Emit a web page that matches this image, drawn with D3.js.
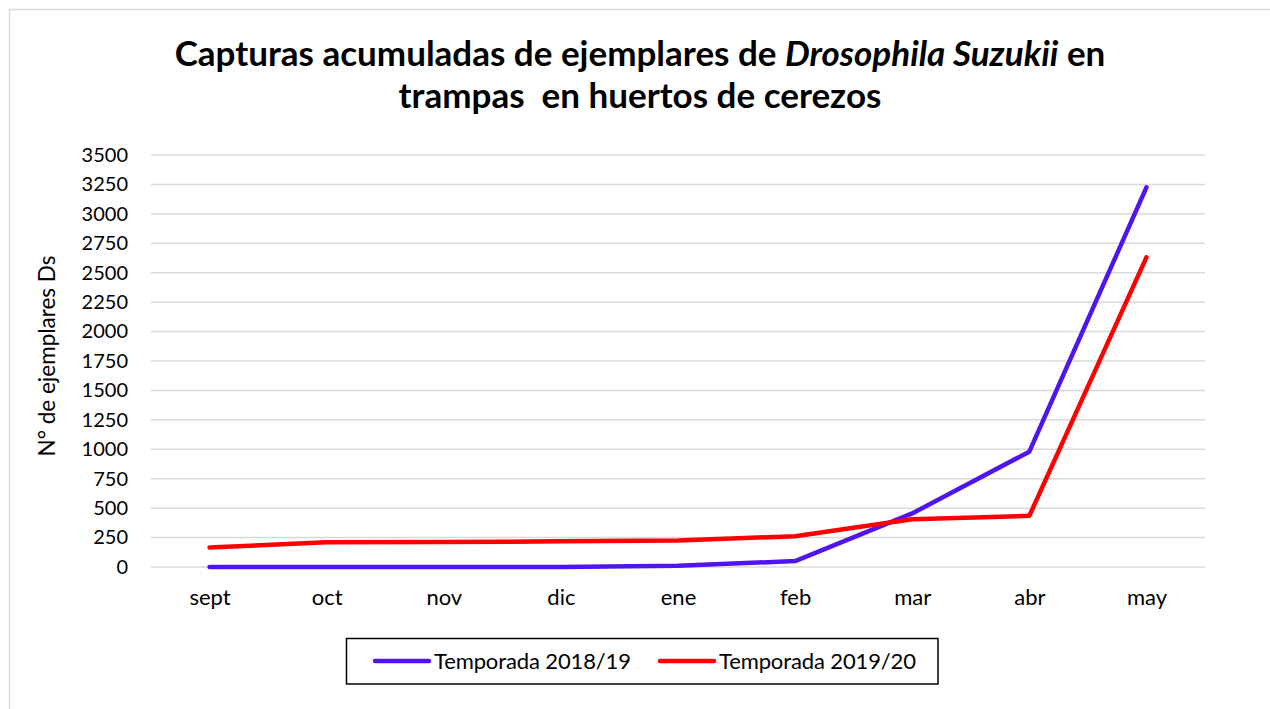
<!DOCTYPE html>
<html>
<head>
<meta charset="utf-8">
<script src="https://cdn.jsdelivr.net/npm/d3@7"></script>
<style>
  body { margin: 0; background: #fff; }
  svg { display: block; font-family: Lato, "Open Sans", sans-serif; }
</style>
</head>
<body>
<svg id="chart" width="1270" height="709"></svg>
<script>
const months = ["sept", "oct", "nov", "dic", "ene", "feb", "mar", "abr", "may"];
const season1819 = [0, 0, 0, 0, 10, 50, 455, 980, 3225];
const season1920 = [165, 210, 212, 218, 225, 262, 405, 435, 2630];
const yTicks = d3.range(0, 3501, 250);

const series = [
  { name: "Temporada 2018/19", values: season1819, color: "#5014F0" },
  { name: "Temporada 2019/20", values: season1920, color: "#FF0000" },
];

const svg = d3.select("#chart");
const plot = { left: 151, right: 1205, top: 155, bottom: 567 };

// chart frame
svg.append("rect")
  .attr("x", 9.5).attr("y", 9.5)
  .attr("width", 1270).attr("height", 720)
  .attr("fill", "none").attr("stroke", "#d9d9d9").attr("stroke-width", 1.5);

const x = d3.scalePoint().domain(months).range([plot.left, plot.right]).padding(0.5);
const y = d3.scaleLinear().domain([0, 3500]).range([plot.bottom, plot.top]);

// title, two lines
const line1 = svg.append("text")
  .attr("x", 640).attr("y", 66)
  .attr("text-anchor", "middle")
  .attr("font-size", 35).attr("font-weight", "bold");
line1.append("tspan").text("Capturas acumuladas de ejemplares de ");
line1.append("tspan").attr("font-style", "italic").text("Drosophila Suzukii");
line1.append("tspan").text(" en");

svg.append("text")
  .attr("x", 640).attr("y", 108)
  .attr("text-anchor", "middle")
  .attr("font-size", 35).attr("font-weight", "bold")
  .attr("xml:space", "preserve")
  .text("trampas  en huertos de cerezos");

// gridlines
svg.append("g")
  .selectAll("line")
  .data(yTicks)
  .join("line")
  .attr("x1", plot.left).attr("x2", plot.right)
  .attr("y1", (d) => y(d)).attr("y2", (d) => y(d))
  .attr("stroke", "#d9d9d9").attr("stroke-width", 1.5);

// y axis
const yAxis = svg.append("g")
  .attr("transform", `translate(${plot.left},0)`)
  .call(d3.axisLeft(y).tickValues(yTicks).tickFormat(d3.format("d")).tickSize(0).tickPadding(23));
yAxis.select(".domain").remove();
yAxis.selectAll("text").attr("font-size", 20).attr("fill", "#000").attr("font-family", "Lato, sans-serif");

// x axis
const xAxis = svg.append("g")
  .attr("transform", `translate(0,${plot.bottom})`)
  .call(d3.axisBottom(x).tickSize(0).tickPadding(22));
xAxis.select(".domain").remove();
xAxis.selectAll("text").attr("font-size", 22).attr("fill", "#000").attr("font-family", "Lato, sans-serif");

// y axis title
svg.append("text")
  .attr("transform", "translate(55,356) rotate(-90)")
  .attr("text-anchor", "middle")
  .attr("font-size", 22.5)
  .text("N° de ejemplares Ds");

// lines
const line = d3.line()
  .x((d, i) => x(months[i]))
  .y((d) => y(d));

svg.append("g")
  .selectAll("path")
  .data(series)
  .join("path")
  .attr("d", (s) => line(s.values))
  .attr("fill", "none")
  .attr("stroke", (s) => s.color)
  .attr("stroke-width", 4.5)
  .attr("stroke-linecap", "round")
  .attr("stroke-linejoin", "round");

// legend
const legend = svg.append("g");
legend.append("rect")
  .attr("x", 346.5).attr("y", 638.5)
  .attr("width", 591.5).attr("height", 45.5)
  .attr("fill", "none").attr("stroke", "#000").attr("stroke-width", 1.5);

const legendX = [375, 660];
series.forEach((s, i) => {
  const g = legend.append("g").attr("transform", `translate(${legendX[i]},661)`);
  g.append("line")
    .attr("x1", 0).attr("x2", 54)
    .attr("stroke", s.color).attr("stroke-width", 4.5).attr("stroke-linecap", "round");
  g.append("text")
    .attr("x", 59).attr("y", 8)
    .attr("font-size", 22)
    .attr("textLength", 197)
    .text(s.name);
});
</script>
</body>
</html>
